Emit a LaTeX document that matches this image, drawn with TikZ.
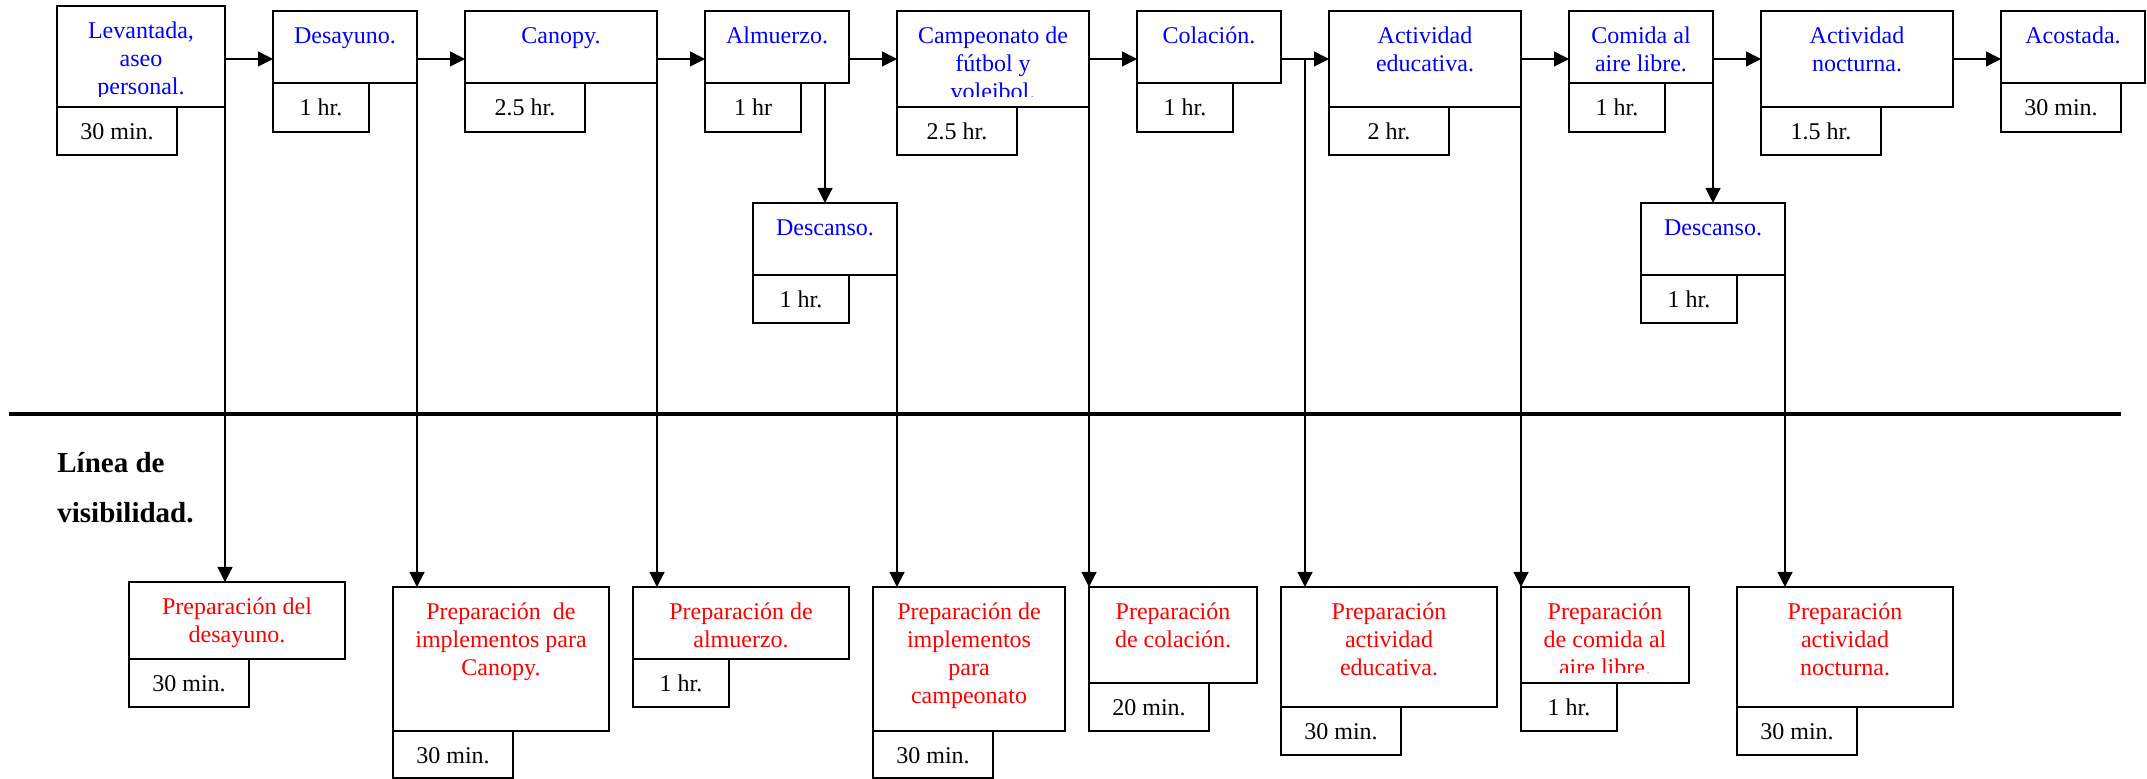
\documentclass[tikz,border=0pt]{standalone}
\usepackage{fontspec}
\setmainfont{Liberation Serif}
\usetikzlibrary{arrows.meta}
\newcommand\ml[1]{\begin{tabular}[t]{@{}c@{}}#1\end{tabular}}
\tikzset{
  box/.style={draw, rectangle, line width=0.7pt, inner sep=0pt, outer sep=0pt},
  tb/.style={text=blue, inner sep=0pt, font=\fontsize{12}{14}\selectfont},
  tr/.style={text=red, inner sep=0pt, font=\fontsize{12}{14}\selectfont},
  tk/.style={text=black, inner sep=0pt, font=\fontsize{12}{14}\selectfont},
  arr/.style={-{Triangle[length=7.5pt,width=7.5pt]}, line width=0.6pt},
  ln/.style={line width=0.6pt}
}
% #1 name, #2 x1, #3 y1, #4 x2, #5 y2, #6 text style, #7 text
\newcommand\bx[7]{%
  \node[box, minimum width={(#4-#2)*0.5pt}, minimum height={(#5-#3)*0.5pt}] (#1) at ({(#2+#4)/2},{(#3+#5)/2}) {};
  \node[#6, anchor=base] (#1t) at ({(#2+#4)/2},{#3+33}) {\ml{#7}};
}
\newcommand\bxc[7]{%
  \node[box, minimum width={(#4-#2)*0.5pt}, minimum height={(#5-#3)*0.5pt}] (#1) at ({(#2+#4)/2},{(#3+#5)/2}) {};
  \begin{scope}
    \clip (#2,#3) rectangle (#4,{#5-10});
    \node[#6, anchor=base] (#1t) at ({(#2+#4)/2},{#3+33}) {\ml{#7}};
  \end{scope}
}
\begin{document}
\begin{tikzpicture}[x=0.5pt, y=-0.5pt]
\useasboundingbox (0,0) rectangle (2147,779);

% top row
\bxc{lev}{57}{6}{225}{107}{tb}{Levantada,\\aseo\\personal.}
\bx{levd}{57}{107}{177}{155}{tk}{30 min.}
\bx{des}{273}{11}{417}{83}{tb}{Desayuno.}
\bx{desd}{273}{83}{369}{132}{tk}{1 hr.}
\bx{can}{465}{11}{657}{83}{tb}{Canopy.}
\bx{cand}{465}{83}{585}{132}{tk}{2.5 hr.}
\bx{alm}{705}{11}{849}{83}{tb}{Almuerzo.}
\bx{almd}{705}{83}{801}{132}{tk}{1 hr}
\bxc{cam}{897}{11}{1089}{107}{tb}{Campeonato de\\fútbol y\\voleibol.}
\bx{camd}{897}{107}{1017}{155}{tk}{2.5 hr.}
\bx{col}{1137}{11}{1281}{83}{tb}{Colación.}
\bx{cold}{1137}{83}{1233}{132}{tk}{1 hr.}
\bx{edu}{1329}{11}{1521}{107}{tb}{Actividad\\educativa.}
\bx{edud}{1329}{107}{1449}{155}{tk}{2 hr.}
\bx{com}{1569}{11}{1713}{83}{tb}{Comida al\\aire libre.}
\bx{comd}{1569}{83}{1665}{132}{tk}{1 hr.}
\bx{noc}{1761}{11}{1953}{107}{tb}{Actividad\\nocturna.}
\bx{nocd}{1761}{107}{1881}{155}{tk}{1.5 hr.}
\bx{aco}{2001}{11}{2145}{83}{tb}{Acostada.}
\bx{acod}{2001}{83}{2121}{132}{tk}{30 min.}
\bx{ds1}{753}{203}{897}{275}{tb}{Descanso.}
\bx{ds1d}{753}{275}{849}{323}{tk}{1 hr.}
\bx{ds2}{1641}{203}{1785}{275}{tb}{Descanso.}
\bx{ds2d}{1641}{275}{1737}{323}{tk}{1 hr.}

% bottom row
\bx{pdes}{129}{582}{345}{659}{tr}{Preparación del\\desayuno.}
\bx{pdesd}{129}{659}{249}{707}{tk}{30 min.}
\bx{pcan}{393}{587}{609}{731}{tr}{Preparación~ de\\implementos para\\Canopy.}
\bx{pcand}{393}{731}{513}{778}{tk}{30 min.}
\bx{palm}{633}{587}{849}{659}{tr}{Preparación de\\almuerzo.}
\bx{palmd}{633}{659}{729}{707}{tk}{1 hr.}
\bx{pcam}{873}{587}{1065}{731}{tr}{Preparación de\\implementos\\para\\campeonato}
\bx{pcamd}{873}{731}{993}{778}{tk}{30 min.}
\bx{pcol}{1089}{587}{1257}{683}{tr}{Preparación\\de colación.}
\bx{pcold}{1089}{683}{1209}{731}{tk}{20 min.}
\bx{pedu}{1281}{587}{1497}{707}{tr}{Preparación\\actividad\\educativa.}
\bx{pedud}{1281}{707}{1401}{755}{tk}{30 min.}
\bxc{pcom}{1521}{587}{1689}{683}{tr}{Preparación\\de comida al\\aire libre.}
\bx{pcomd}{1521}{683}{1617}{731}{tk}{1 hr.}
\bx{pnoc}{1737}{587}{1953}{707}{tr}{Preparación\\actividad\\nocturna.}
\bx{pnocd}{1737}{707}{1857}{755}{tk}{30 min.}

% line of visibility
\coordinate (vl) at (9,414);
\coordinate (vr) at (2121,414);
\draw[line width=2.2pt] (vl) -- (vr);
\node[anchor=base west, inner sep=0pt, font=\bfseries\fontsize{14.5}{25}\selectfont] (vis) at (57,473)
  {\begin{tabular}[t]{@{}l@{}}Línea de\\visibilidad.\end{tabular}};

% horizontal flow
\coordinate (ay) at (0,59);
\draw[arr] (lev.east |- ay) -- (des.west |- ay);
\draw[arr] (des.east |- ay) -- (can.west |- ay);
\draw[arr] (can.east |- ay) -- (alm.west |- ay);
\draw[arr] (alm.east |- ay) -- (cam.west |- ay);
\draw[arr] (cam.east |- ay) -- (col.west |- ay);
\draw[arr] (col.east |- ay) -- (edu.west |- ay);
\draw[arr] (edu.east |- ay) -- (com.west |- ay);
\draw[arr] (com.east |- ay) -- (noc.west |- ay);
\draw[arr] (noc.east |- ay) -- (aco.west |- ay);

% descansos
\draw[arr] (ds1.north |- alm.south) -- (ds1.north);
\draw[arr] (ds2.north |- com.south) -- (ds2.north);

% verticals to support activities
\draw[arr] (lev.south east) -- (lev.south east |- pdes.north);
\draw[arr] (des.south east) -- (des.south east |- pcan.north);
\draw[arr] (can.south east) -- (can.south east |- palm.north);
\draw[arr] (ds1.south east) -- (ds1.south east |- pcam.north);
\draw[arr] (cam.south east) -- (cam.south east |- pcol.north);
\coordinate (br) at (1305,59);
\draw[arr] (br) -- (br |- pedu.north);
\draw[arr] (edu.south east) -- (edu.south east |- pcom.north);
\draw[arr] (ds2.south east) -- (ds2.south east |- pnoc.north);
\end{tikzpicture}
\end{document}
